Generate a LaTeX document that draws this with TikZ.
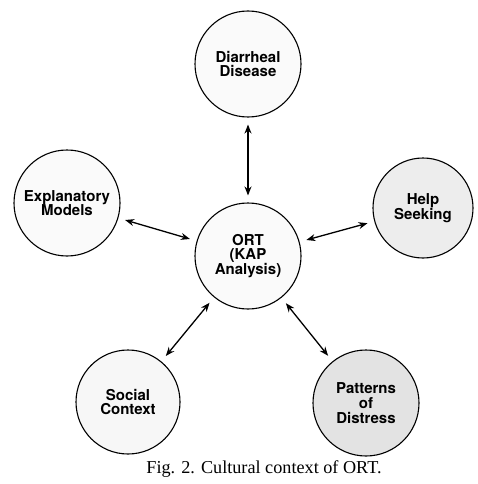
\documentclass[tikz,border=0pt]{standalone}
\usepackage{fontspec}
\setmainfont{Liberation Serif}
\newfontfamily\helv{TeX Gyre Heros}
\usetikzlibrary{arrows.meta}
\tikzset{
  bubble/.style={draw,circle,line width=1.1pt,minimum size=106pt,inner sep=0pt,
    align=center,font=\helv\bfseries\fontsize{15}{14.8}\selectfont},
  link/.style={line width=1.3pt,{Stealth[length=9pt,width=7pt]}-{Stealth[length=9pt,width=7pt]},
    shorten <=7pt,shorten >=7pt}
}
\begin{document}
\begin{tikzpicture}[x=1pt,y=-1pt]
    \useasboundingbox (0,0) rectangle (478,484);
    \path (248,256) node[bubble,fill=gray!4] (ort) {ORT\\(KAP\\Analysis)};
    \path (248,64)  node[bubble,fill=gray!4] (dd) {Diarrheal\\Disease};
    \path (67,203)  node[bubble,fill=gray!4] (em) {Explanatory\\Models};
    \path (423,208) node[bubble,fill=gray!14,minimum size=100pt] (hs) {Help\\Seeking};
    \path (128,402) node[bubble,fill=gray!6,minimum size=104pt] (sc) {Social\\Context};
    \path (366,403) node[bubble,fill=gray!22] (pd) {Patterns\\of\\Distress};
    \draw [link] (ort) -- (dd);
    \draw [link] (ort) -- (em);
    \draw [link] (ort) -- (hs);
    \draw [link] (ort) -- (sc);
    \draw [link] (ort) -- (pd);
    \path (264,469) node[font=\fontsize{18.2}{19}\selectfont] (cap) {Fig. 2. Cultural context of ORT.};
\end{tikzpicture}
\end{document}
